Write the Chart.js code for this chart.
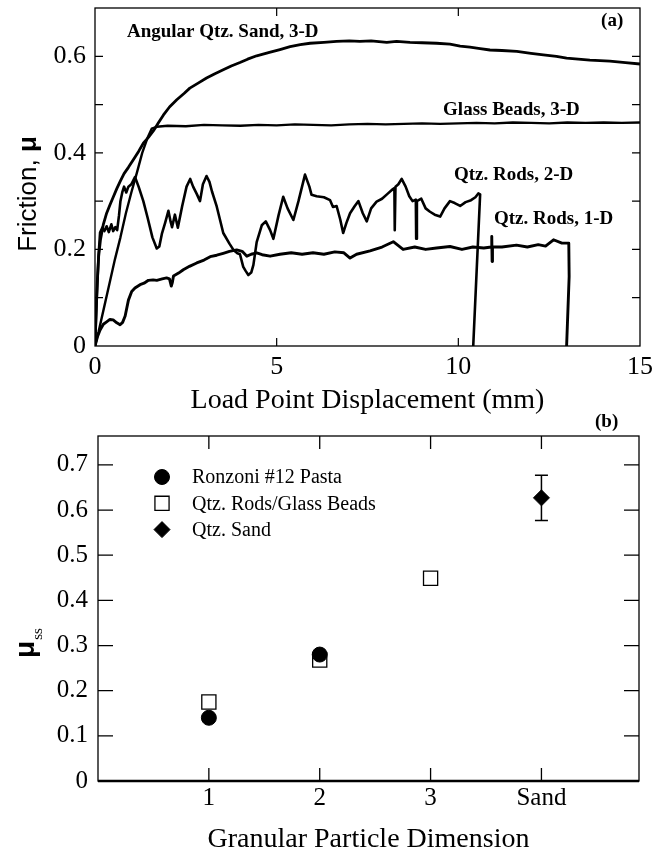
<!DOCTYPE html>
<html>
<head>
<meta charset="utf-8">
<script src="https://cdn.jsdelivr.net/npm/chart.js@4.4.1/dist/chart.umd.min.js"></script>
<style>
  html, body { margin: 0; padding: 0; background: #fff; overflow: hidden; }
  #wrap { position: relative; width: 666px; height: 851px; }
  canvas { position: absolute; left: 0; }
  #chartA { top: 0; }
  #chartB { top: 400px; }
</style>
</head>
<body>
<div id="wrap">
  <canvas id="chartA" width="666" height="420"></canvas>
  <canvas id="chartB" width="666" height="460"></canvas>
</div>
<script>
// (a) friction vs load point displacement (mm)
const sandDisp = [0, 0.03, 0.06, 0.1, 0.15, 0.23, 0.32, 0.41, 0.5, 0.6, 0.7, 0.8, 0.92, 1.05, 1.2, 1.33, 1.47, 1.61, 1.75, 1.88, 2.05, 2.25, 2.45, 2.61, 2.85, 3.07, 3.3, 3.53, 3.75, 3.99, 4.2, 4.45, 4.8, 5.09, 5.37, 5.65, 5.92, 6.3, 6.65, 7.0, 7.29, 7.6, 8.03, 8.3, 8.67, 9.0, 9.4, 9.77, 10.05, 10.32, 10.6, 10.87, 11.2, 11.61, 12.0, 12.34, 12.7, 12.98, 13.3, 13.62, 13.9, 14.17, 14.6, 15];
const sandMu = [0, 0.07, 0.13, 0.185, 0.22, 0.252, 0.275, 0.292, 0.308, 0.326, 0.342, 0.357, 0.37, 0.385, 0.403, 0.42, 0.432, 0.446, 0.463, 0.478, 0.495, 0.51, 0.523, 0.534, 0.545, 0.555, 0.564, 0.572, 0.58, 0.587, 0.594, 0.601, 0.608, 0.614, 0.62, 0.624, 0.627, 0.629, 0.631, 0.632, 0.631, 0.632, 0.629, 0.631, 0.629, 0.628, 0.627, 0.625, 0.621, 0.619, 0.616, 0.613, 0.612, 0.61, 0.606, 0.603, 0.6, 0.596, 0.594, 0.592, 0.591, 0.59, 0.587, 0.584];

const beadsDisp = [0, 0.1, 0.25, 0.4, 0.55, 0.7, 0.85, 1.0, 1.15, 1.3, 1.45, 1.56, 1.7, 2.0, 2.5, 3.0, 3.5, 4.0, 4.5, 5.0, 5.5, 6.0, 6.5, 7.0, 7.5, 8.0, 8.5, 9.0, 9.5, 10.0, 10.5, 11.0, 11.5, 12.0, 12.5, 13.0, 13.5, 14.0, 14.5, 15];
const beadsMu = [0, 0.03, 0.08, 0.13, 0.18, 0.225, 0.275, 0.318, 0.358, 0.4, 0.432, 0.45, 0.454, 0.456, 0.455, 0.458, 0.457, 0.456, 0.458, 0.457, 0.459, 0.458, 0.457, 0.459, 0.46, 0.459, 0.46, 0.461, 0.46, 0.461, 0.462, 0.461, 0.463, 0.462, 0.461, 0.463, 0.462, 0.463, 0.462, 0.463];

const rods2Disp = [0, 0.05, 0.1, 0.14, 0.2, 0.26, 0.32, 0.38, 0.45, 0.5, 0.56, 0.61, 0.66, 0.7, 0.75, 0.8, 0.86, 0.92, 1.0, 1.1, 1.2, 1.33, 1.45, 1.58, 1.7, 1.77, 1.84, 1.93, 2.02, 2.08, 2.12, 2.2, 2.28, 2.4, 2.52, 2.62, 2.7, 2.8, 2.89, 2.97, 3.07, 3.15, 3.22, 3.35, 3.53, 3.7, 3.81, 3.92, 3.99, 4.08, 4.15, 4.22, 4.3, 4.36, 4.45, 4.59, 4.7, 4.82, 4.91, 5.05, 5.18, 5.3, 5.46, 5.6, 5.78, 5.9, 5.96, 6.1, 6.3, 6.47, 6.55, 6.65, 6.75, 6.83, 6.92, 7.02, 7.15, 7.25, 7.37, 7.48, 7.6, 7.75, 7.9, 8.05, 8.2, 8.24, 8.25, 8.27, 8.35, 8.44, 8.55, 8.65, 8.74, 8.83, 8.84, 8.86, 8.98, 9.1, 9.22, 9.35, 9.5, 9.62, 9.77, 9.9, 10.05, 10.2, 10.35, 10.47, 10.55, 10.6, 10.41];
const rods2Mu = [0, 0.1, 0.19, 0.235, 0.245, 0.238, 0.248, 0.236, 0.252, 0.238, 0.246, 0.24, 0.27, 0.3, 0.318, 0.33, 0.318, 0.33, 0.335, 0.35, 0.33, 0.3, 0.265, 0.225, 0.202, 0.206, 0.232, 0.255, 0.28, 0.258, 0.246, 0.272, 0.245, 0.29, 0.33, 0.346, 0.33, 0.315, 0.3, 0.335, 0.352, 0.34, 0.32, 0.289, 0.234, 0.212, 0.199, 0.192, 0.19, 0.164, 0.155, 0.147, 0.152, 0.168, 0.215, 0.25, 0.258, 0.24, 0.222, 0.27, 0.309, 0.285, 0.261, 0.3, 0.355, 0.33, 0.313, 0.31, 0.308, 0.302, 0.288, 0.29, 0.262, 0.234, 0.255, 0.275, 0.29, 0.3, 0.275, 0.258, 0.285, 0.299, 0.305, 0.315, 0.325, 0.327, 0.24, 0.33, 0.335, 0.346, 0.33, 0.31, 0.3, 0.303, 0.222, 0.3, 0.305, 0.285, 0.278, 0.272, 0.268, 0.285, 0.3, 0.296, 0.29, 0.298, 0.302, 0.308, 0.316, 0.314, 0];

const rods1Disp = [0, 0.07, 0.14, 0.23, 0.32, 0.41, 0.5, 0.6, 0.69, 0.76, 0.83, 0.92, 1.01, 1.1, 1.24, 1.35, 1.47, 1.6, 1.7, 1.85, 1.97, 2.05, 2.1, 2.13, 2.16, 2.3, 2.43, 2.6, 2.8, 3.0, 3.17, 3.35, 3.53, 3.7, 3.9, 4.05, 4.18, 4.3, 4.45, 4.6, 4.82, 5.09, 5.4, 5.7, 6.0, 6.3, 6.6, 6.85, 7.02, 7.2, 7.57, 7.9, 8.21, 8.48, 8.8, 9.1, 9.4, 9.77, 10.1, 10.4, 10.7, 10.91, 10.92, 10.93, 10.94, 11.2, 11.6, 11.9, 12.2, 12.4, 12.62, 12.85, 13.04, 13.05, 12.98];
const rods1Mu = [0, 0.02, 0.033, 0.045, 0.05, 0.055, 0.054, 0.048, 0.044, 0.049, 0.062, 0.095, 0.113, 0.12, 0.127, 0.13, 0.136, 0.137, 0.136, 0.139, 0.141, 0.139, 0.124, 0.132, 0.145, 0.151, 0.158, 0.165, 0.172, 0.178, 0.185, 0.188, 0.192, 0.196, 0.199, 0.196, 0.186, 0.19, 0.193, 0.189, 0.186, 0.19, 0.193, 0.19, 0.193, 0.19, 0.195, 0.193, 0.182, 0.19, 0.197, 0.205, 0.216, 0.2, 0.205, 0.2, 0.203, 0.206, 0.2, 0.205, 0.203, 0.205, 0.227, 0.175, 0.205, 0.205, 0.209, 0.205, 0.21, 0.207, 0.22, 0.213, 0.213, 0.144, 0];

const dispTicks = [0, 5, 10, 15];
const dispLabels = ['0', '5', '10', '15'];
const muTicksA = [0, 0.1, 0.2, 0.3, 0.4, 0.5, 0.6, 0.7];
const muLabelsA = ['0', '', '0.2', '', '0.4', '', '0.6', ''];

// (b) steady-state friction vs particle dimension
const dimTicks = [1, 2, 3, 4];
const dimLabels = ['1', '2', '3', 'Sand'];
const pastaDim = [1, 2];
const pastaMu = [0.14, 0.28];
const rodsDim = [1, 2, 3];
const rodsMu = [0.175, 0.268, 0.449];
const sandDim = [4];
const sandMuSS = [0.627];
const sandErrLow = [0.577];
const sandErrHigh = [0.677];
const muTicksB = [0, 0.1, 0.2, 0.3, 0.4, 0.5, 0.6, 0.7];
const muLabelsB = ['0', '0.1', '0.2', '0.3', '0.4', '0.5', '0.6', '0.7'];

const serif = "'Liberation Serif', 'Times New Roman', serif";
const sans = "'Liberation Sans', Arial, sans-serif";

const pts = (xs, ys) => xs.map((x, i) => ({ x, y: ys[i] }));
const fixTicks = vals => s => { s.ticks = vals.map(v => ({ value: v })); };
// fixed axis box size, no extra label overhang padding
const fitTo = (w, h) => s => {
  if (w) s.width = w;
  if (h) s.height = h;
  s.paddingTop = 0; s.paddingBottom = 0; s.paddingLeft = 0; s.paddingRight = 0;
};

function curve(label, xs, ys, w) {
  return {
    label, data: pts(xs, ys), showLine: true, borderColor: '#000', borderWidth: w,
    pointRadius: 0, tension: 0, fill: false, borderJoinStyle: 'round'
  };
}

// frame with inward tick marks on all four sides
function frame(id, o) {
  return {
    id,
    afterDatasetsDraw(chart) {
      const { ctx, chartArea: a, scales: { x, y } } = chart;
      ctx.save();
      ctx.strokeStyle = '#000';
      ctx.lineWidth = o.line;
      ctx.strokeRect(a.left, a.top, a.right - a.left, a.bottom - a.top);
      if (o.bottom) {
        ctx.lineWidth = o.bottom;
        ctx.beginPath();
        ctx.moveTo(a.left, a.bottom);
        ctx.lineTo(a.right, a.bottom);
        ctx.stroke();
      }
      ctx.lineWidth = o.tick;
      ctx.beginPath();
      x.ticks.forEach(t => {
        const px = x.getPixelForValue(t.value);
        if (px < a.left + 2 || px > a.right - 2) return;
        ctx.moveTo(px, a.bottom); ctx.lineTo(px, a.bottom - o.xLen);
        ctx.moveTo(px, a.top); ctx.lineTo(px, a.top + o.xLen);
      });
      y.ticks.forEach(t => {
        const py = y.getPixelForValue(t.value);
        if (py < a.top + 2 || py > a.bottom - 2) return;
        ctx.moveTo(a.left, py); ctx.lineTo(a.left + o.yLen, py);
        ctx.moveTo(a.right, py); ctx.lineTo(a.right - o.yLen, py);
      });
      ctx.stroke();
      ctx.restore();
    }
  };
}

const curveLabels = [
  { text: 'Angular Qtz. Sand, 3-D', x: 0.88, y: 0.651 },
  { text: 'Glass Beads, 3-D', x: 9.58, y: 0.489 },
  { text: 'Qtz. Rods, 2-D', x: 9.88, y: 0.354 },
  { text: 'Qtz. Rods, 1-D', x: 10.98, y: 0.263 },
  { text: '(a)', x: 13.93, y: 0.672 }
];

const labelsA = {
  id: 'labelsA',
  afterDraw(chart) {
    const { ctx, chartArea: a, scales: { x, y } } = chart;
    ctx.save();
    ctx.fillStyle = '#000';
    ctx.font = `bold 19px ${serif}`;
    ctx.textBaseline = 'middle';
    ctx.textAlign = 'left';
    curveLabels.forEach(l => ctx.fillText(l.text, x.getPixelForValue(l.x), y.getPixelForValue(l.y)));
    // y title: "Friction, μ" with bold mu
    ctx.translate(a.left - 59, (a.top + a.bottom) / 2 + 17);
    ctx.rotate(-Math.PI / 2);
    ctx.textBaseline = 'alphabetic';
    ctx.font = `26px ${sans}`;
    const t1 = 'Friction, ';
    const w1 = ctx.measureText(t1).width;
    ctx.font = `bold 26px ${sans}`;
    const w2 = ctx.measureText('μ').width;
    const s = -(w1 + w2) / 2;
    ctx.font = `26px ${sans}`;
    ctx.fillText(t1, s, 0);
    ctx.font = `bold 26px ${sans}`;
    ctx.fillText('μ', s + w1, 0);
    ctx.restore();
  }
};

new Chart(document.getElementById('chartA'), {
  type: 'scatter',
  data: {
    datasets: [
      curve('Angular Qtz. Sand, 3-D', sandDisp, sandMu, 2.8),
      curve('Glass Beads, 3-D', beadsDisp, beadsMu, 2.4),
      curve('Qtz. Rods, 2-D', rods2Disp, rods2Mu, 2.6),
      curve('Qtz. Rods, 1-D', rods1Disp, rods1Mu, 2.9)
    ]
  },
  options: {
    responsive: false,
    animation: false,
    layout: { padding: { top: 8, right: 26, left: 0, bottom: 0 } },
    plugins: { legend: { display: false }, tooltip: { enabled: false } },
    scales: {
      x: {
        type: 'linear', min: 0, max: 15,
        afterBuildTicks: fixTicks(dispTicks),
        afterFit: fitTo(0, 74),
        grid: { display: false, drawTicks: false },
        border: { display: false },
        ticks: {
          padding: 6, color: '#000', maxRotation: 0, autoSkip: false,
          font: { family: serif, size: 26 },
          callback: v => dispLabels[dispTicks.indexOf(v)]
        },
        title: {
          display: true, text: 'Load Point Displacement (mm)', color: '#000',
          font: { family: serif, size: 28 }, padding: { top: 0, bottom: 3 }
        }
      },
      y: {
        type: 'linear', min: 0, max: 0.7,
        afterBuildTicks: fixTicks(muTicksA),
        afterFit: fitTo(95, 0),
        grid: { display: false, drawTicks: false },
        border: { display: false },
        ticks: {
          padding: 9, color: '#000', autoSkip: false,
          font: { family: serif, size: 26 },
          callback: v => muLabelsA[muTicksA.indexOf(v)]
        }
      }
    }
  },
  plugins: [frame('frameA', { line: 1.3, tick: 1.2, xLen: 8, yLen: 8 }), labelsA]
});

// (b)
const errorBars = {
  id: 'errorBars',
  beforeDatasetsDraw(chart) {
    const { ctx, scales: { x, y } } = chart;
    ctx.save();
    ctx.strokeStyle = '#000';
    ctx.lineWidth = 1.5;
    ctx.beginPath();
    sandDim.forEach((d, i) => {
      const px = x.getPixelForValue(d);
      const lo = y.getPixelForValue(sandErrLow[i]);
      const hi = y.getPixelForValue(sandErrHigh[i]);
      ctx.moveTo(px, lo); ctx.lineTo(px, hi);
      ctx.moveTo(px - 6.5, lo); ctx.lineTo(px + 6.5, lo);
      ctx.moveTo(px - 6.5, hi); ctx.lineTo(px + 6.5, hi);
    });
    ctx.stroke();
    ctx.restore();
  }
};

const labelsB = {
  id: 'labelsB',
  afterDraw(chart) {
    const { ctx, chartArea: a } = chart;
    ctx.save();
    ctx.fillStyle = '#000';
    // legend inside the plot, top left
    chart.data.datasets.forEach((ds, i) => {
      const cy = a.top + 41 + i * 26.3;
      ctx.fillStyle = ds.backgroundColor;
      ctx.strokeStyle = ds.borderColor;
      ctx.lineWidth = ds.borderWidth;
      Chart.helpers.drawPoint(ctx, { pointStyle: ds.pointStyle, radius: ds.pointRadius, rotation: 0, borderWidth: ds.borderWidth }, a.left + 64, cy);
      ctx.fillStyle = '#000';
      ctx.font = `20px ${serif}`;
      ctx.textBaseline = 'middle';
      ctx.textAlign = 'left';
      ctx.fillText(ds.label, a.left + 94, cy + 1);
    });
    // panel tag
    ctx.font = `bold 19px ${serif}`;
    ctx.textAlign = 'left';
    ctx.textBaseline = 'middle';
    ctx.fillText('(b)', a.right - 44, a.top - 14);
    // y title: bold mu with subscript ss
    ctx.translate(a.left - 64, (a.top + a.bottom) / 2 + 35);
    ctx.rotate(-Math.PI / 2);
    ctx.textBaseline = 'alphabetic';
    ctx.font = `bold 28px ${sans}`;
    const w1 = ctx.measureText('μ').width;
    ctx.font = `15px ${serif}`;
    const w2 = ctx.measureText('ss').width;
    const s = -(w1 + w2) / 2;
    ctx.font = `bold 28px ${sans}`;
    ctx.fillText('μ', s, 0);
    ctx.font = `15px ${serif}`;
    ctx.fillText('ss', s + w1 + 1, 8);
    ctx.restore();
  }
};

new Chart(document.getElementById('chartB'), {
  type: 'scatter',
  data: {
    datasets: [
      { label: 'Ronzoni #12 Pasta', data: pts(pastaDim, pastaMu), pointStyle: 'circle', pointRadius: 7.5, backgroundColor: '#000', borderColor: '#000', borderWidth: 1 },
      { label: 'Qtz. Rods/Glass Beads', data: pts(rodsDim, rodsMu), pointStyle: 'rect', pointRadius: 10, backgroundColor: '#fff', borderColor: '#000', borderWidth: 1.3 },
      { label: 'Qtz. Sand', data: pts(sandDim, sandMuSS), pointStyle: 'rectRot', pointRadius: 8, backgroundColor: '#000', borderColor: '#000', borderWidth: 1 }
    ]
  },
  options: {
    responsive: false,
    animation: false,
    layout: { padding: { top: 36, right: 27, left: 0, bottom: 0 } },
    plugins: { legend: { display: false }, tooltip: { enabled: false } },
    scales: {
      x: {
        type: 'linear', min: 0, max: 4.88,
        afterBuildTicks: fixTicks(dimTicks),
        afterFit: fitTo(0, 79),
        grid: { display: false, drawTicks: false },
        border: { display: false },
        ticks: {
          padding: 2, color: '#000', maxRotation: 0, autoSkip: false,
          font: { family: serif, size: 25 },
          callback: v => dimLabels[dimTicks.indexOf(v)]
        },
        title: {
          display: true, text: 'Granular Particle Dimension', color: '#000',
          font: { family: serif, size: 28 }, padding: { top: 0, bottom: 4 }
        }
      },
      y: {
        type: 'linear', min: 0, max: 0.764,
        afterBuildTicks: fixTicks(muTicksB),
        afterFit: fitTo(98, 0),
        grid: { display: false, drawTicks: false },
        border: { display: false },
        ticks: {
          padding: 10, color: '#000', autoSkip: false,
          font: { family: serif, size: 25 },
          callback: v => muLabelsB[muTicksB.indexOf(v)]
        }
      }
    }
  },
  plugins: [errorBars, frame('frameB', { line: 1.3, bottom: 2.6, tick: 1.3, xLen: 13, yLen: 15 }), labelsB]
});
</script>
</body>
</html>
